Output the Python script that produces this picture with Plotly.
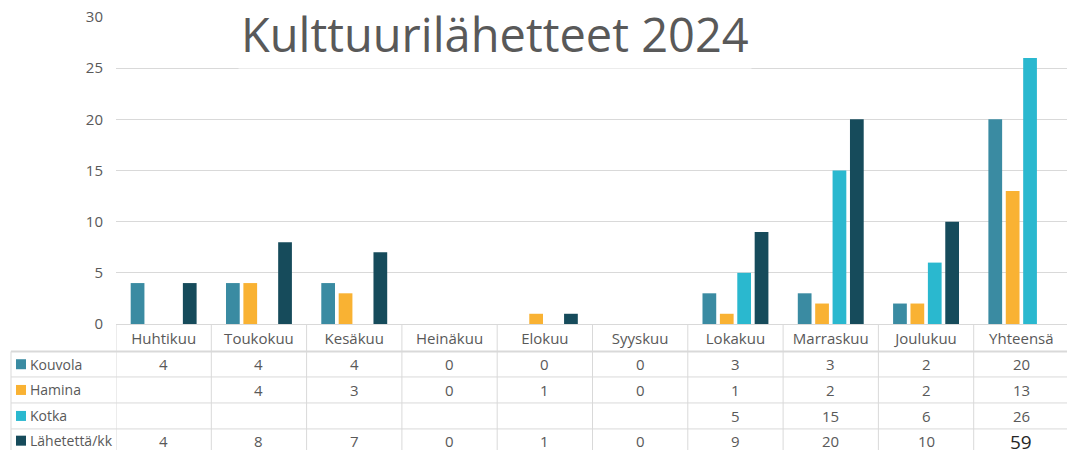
import plotly.graph_objects as go

categories = ["Huhtikuu", "Toukokuu", "Kesäkuu", "Heinäkuu", "Elokuu",
              "Syyskuu", "Lokakuu", "Marraskuu", "Joulukuu", "Yhteensä"]
kouvola = [4, 4, 4, 0, 0, 0, 3, 3, 2, 20]
hamina = [None, 4, 3, 0, 1, 0, 1, 2, 2, 13]
kotka = [None, None, None, None, None, None, 5, 15, 6, 26]
lahetetta = [4, 8, 7, 0, 1, 0, 9, 20, 10, 59]
series_names = ["Kouvola", "Hamina", "Kotka", "Lähetettä/kk"]
title_text = "Kulttuurilähetteet 2024"

colors = ["#3A8BA2", "#F9B233", "#2AB8CF", "#164B5B"]
series = [kouvola, hamina, kotka, lahetetta]
# the total of "Lähetettä/kk" is only shown in the table, not as a bar
bar_series = [kouvola, hamina, kotka, lahetetta[:-1] + [None]]

W, H = 1067, 450
PT, PB = 17.3, 324.5  # plot top / bottom in px
PL = 116
FONT = "Open Sans"
GREY = "#595959"
LINE = "#D9D9D9"


def py(y):
    return (PB - y) / (PB - PT)


def px(x):
    return (x - PL) / (W - PL)


fig = go.Figure()
for name, vals, col in zip(series_names, bar_series, colors):
    fig.add_trace(go.Bar(x=categories, y=vals, name=name, marker_color=col,
                         marker_line_width=0, showlegend=False))

annotations = []
shapes = []

# title with white background
annotations.append(dict(text=title_text, x=px(495), xref="paper", y=py(34), yref="paper",
                        showarrow=False, font=dict(family=FONT, size=47, color=GREY),
                        bgcolor="white", xanchor="center", yanchor="middle", borderpad=2))

row_lines = [352, 377.5, 403.5, 429.5, 455]
row_centers = [(row_lines[i] + row_lines[i + 1]) / 2 for i in range(4)]
row_centers[-1] -= 1

for i, (name, vals, col) in enumerate(zip(series_names, series, colors)):
    yc = py(row_centers[i])
    # legend key square
    shapes.append(dict(type="rect", xref="paper", yref="paper",
                       x0=px(16), x1=px(26),
                       y0=yc - 5 / (PB - PT), y1=yc + 5 / (PB - PT),
                       fillcolor=col, line_width=0))
    annotations.append(dict(text=name, x=px(28), xref="paper", y=yc, yref="paper",
                            showarrow=False, xanchor="left", yanchor="middle",
                            font=dict(family=FONT, size=14, color=GREY)))
    for c, v in zip(categories, vals):
        if v is None:
            continue
        big = (i == 3 and c == categories[-1])
        annotations.append(dict(text=str(v), x=c, xref="x", y=yc + (-1.5 / (PB - PT) if big else 0),
                                yref="paper", showarrow=False, xanchor="center", yanchor="middle",
                                font=dict(family=FONT, size=19 if big else 15,
                                          color="#262626" if big else GREY)))

# table lines
for k, yl in enumerate(row_lines[:-1]):
    shapes.append(dict(type="line", xref="paper", yref="paper",
                       x0=px(11), x1=1, y0=py(yl), y1=py(yl),
                       line=dict(color=LINE, width=2 if k == 0 else 1)))
shapes.append(dict(type="line", xref="paper", yref="paper",
                   x0=px(11), x1=px(11),
                   y0=py(row_lines[0]), y1=py(H + 5), line=dict(color=LINE, width=1)))
for j in range(len(categories)):
    xb = j - 0.5
    shapes.append(dict(type="line", xref="x", yref="paper", x0=xb, x1=xb,
                       y0=0, y1=py(H + 5), line=dict(color=LINE, width=1)))

fig.update_layout(
    width=W, height=H,
    margin=dict(l=PL, r=0, t=PT, b=H - PB),
    paper_bgcolor="white", plot_bgcolor="white",
    barmode="group", bargap=0.27, bargroupgap=0.21,
    annotations=annotations, shapes=shapes,
    font=dict(family=FONT, color=GREY),
)
fig.update_xaxes(type="category", range=[-0.5, 9.5 - 2 / 95.3], showgrid=False,
                 showline=True, linecolor=LINE, linewidth=1, ticks="",
                 tickfont=dict(family=FONT, size=15, color=GREY), ticklabelstandoff=1)
fig.update_yaxes(range=[0, 30], dtick=5, showgrid=True, gridcolor=LINE, gridwidth=1,
                 zeroline=False, showline=False, ticks="",
                 tickfont=dict(family=FONT, size=15, color=GREY), ticklabelstandoff=12)

fig.write_html("out.html")
